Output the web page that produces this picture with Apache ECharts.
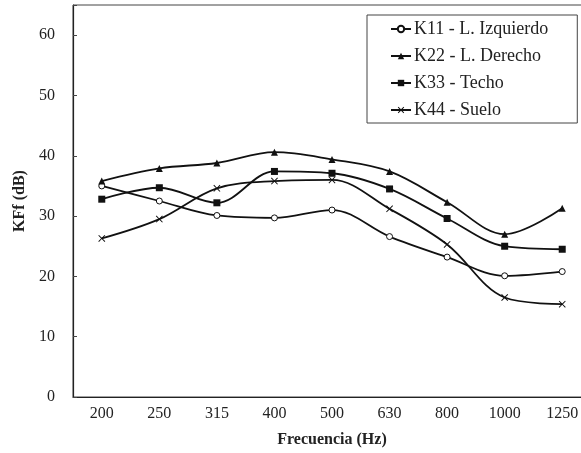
<!DOCTYPE html>
<html>
<head>
<meta charset="utf-8">
<script src="https://cdn.jsdelivr.net/npm/echarts@6/dist/echarts.min.js"></script>
<style>
  html, body { margin: 0; padding: 0; background: #fff; }
  #main { width: 581px; height: 453px; }
</style>
</head>
<body>
<div id="main"></div>
<script>
// frecuencias (Hz)
var categories = ['200', '250', '315', '400', '500', '630', '800', '1000', '1250'];
var k11 = [35.0, 32.5, 30.1, 29.7, 31.0, 26.6, 23.2, 20.1, 20.8];
var k22 = [35.8, 37.9, 38.8, 40.6, 39.4, 37.4, 32.3, 27.0, 31.3];
var k33 = [32.8, 34.7, 32.2, 37.4, 37.1, 34.5, 29.6, 25.0, 24.5];
var k44 = [26.3, 29.5, 34.6, 35.8, 36.0, 31.2, 25.3, 16.5, 15.4];
var yTicks = [0, 10, 20, 30, 40, 50, 60];

var chart = echarts.init(document.getElementById('main'), null, { renderer: 'canvas' });

var font = 'Liberation Serif';
var crossPath = 'path://M0,1L1,0L5,4L9,0L10,1L6,5L10,9L9,10L5,6L1,10L0,9L4,5Z';

function mkSeries(name, data, symbol, size, hollow) {
  return {
    name: name,
    type: 'line',
    smooth: 0.35,
    data: data,
    symbol: symbol,
    symbolSize: size,
    showAllSymbol: true,
    lineStyle: { color: '#111', width: 1.8 },
    itemStyle: hollow ? {
      color: '#fff', borderColor: '#111', borderWidth: 1
    } : {
      color: '#111', borderColor: '#111', borderWidth: 0
    },
    emphasis: { disabled: true }
  };
}

var option = {
  animation: false,
  backgroundColor: '#fff',
  textStyle: { fontFamily: font },
  grid: {
    left: 73,
    top: 5,
    width: 518,
    bottom: 56,
    containLabel: false,
    outerBoundsMode: 'none',
    show: true,
    borderColor: '#444',
    borderWidth: 1
  },
  legend: {
    orient: 'vertical',
    left: 367,
    top: 15,
    itemGap: 9,
    itemWidth: 20,
    itemHeight: 8,
    padding: [5, 29, 4, 23],
    borderColor: '#444',
    borderWidth: 1,
    textStyle: { fontFamily: font, fontSize: 18, color: '#222', padding: [0, 0, 0, -2] },
    data: ['K11 - L. Izquierdo', 'K22 - L. Derecho', 'K33 - Techo', 'K44 - Suelo']
  },
  xAxis: {
    type: 'category',
    data: categories,
    boundaryGap: true,
    name: 'Frecuencia (Hz)',
    nameLocation: 'middle',
    nameGap: 35,
    nameTextStyle: { fontFamily: font, fontSize: 16, fontWeight: 'bold', color: '#222' },
    axisLine: { lineStyle: { color: '#222', width: 1.2 } },
    axisTick: { inside: true, alignWithLabel: true, length: 4, lineStyle: { color: '#444' } },
    axisLabel: { fontFamily: font, fontSize: 16, color: '#222', margin: 9 },
    splitLine: { show: false }
  },
  yAxis: {
    type: 'value',
    min: 0,
    max: 65,
    interval: 10,
    name: 'KFf (dB)',
    nameLocation: 'middle',
    nameGap: 41,
    nameTextStyle: { fontFamily: font, fontSize: 16, fontWeight: 'bold', color: '#222' },
    axisLine: { show: true, lineStyle: { color: '#222', width: 1.2 } },
    axisTick: { show: true, inside: true, length: 4, lineStyle: { color: '#444' } },
    axisLabel: {
      fontFamily: font, fontSize: 16, color: '#222', margin: 18,
      formatter: function (v) { return yTicks.indexOf(v) >= 0 ? String(v) : ''; }
    },
    splitLine: { show: false }
  },
  series: [
    mkSeries('K11 - L. Izquierdo', k11, 'circle', 6, true),
    mkSeries('K22 - L. Derecho', k22, 'triangle', 7, false),
    mkSeries('K33 - Techo', k33, 'rect', 7, false),
    mkSeries('K44 - Suelo', k44, crossPath, 7, false)
  ]
};

chart.setOption(option);
</script>
</body>
</html>
